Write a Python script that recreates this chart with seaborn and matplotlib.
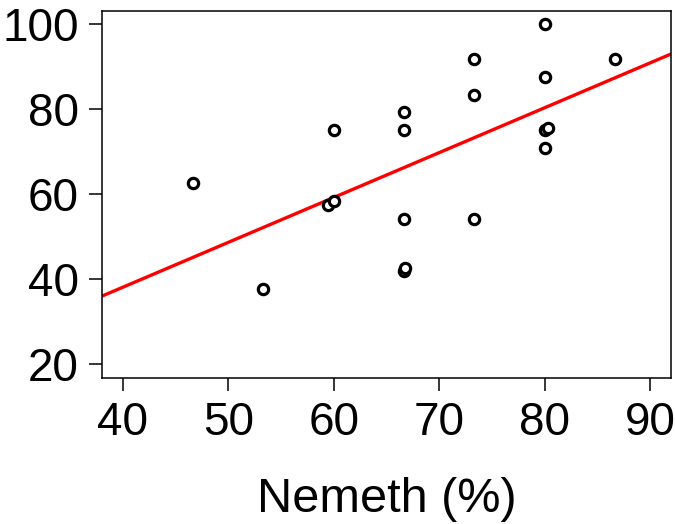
import pandas as pd
import matplotlib.pyplot as plt
import seaborn as sns

sns.set_theme(style="ticks")
plt.rcParams['font.family'] = ['Liberation Sans', 'DejaVu Sans']
plt.rcParams.update({'text.color': 'black', 'axes.labelcolor': 'black',
                     'xtick.color': 'black', 'ytick.color': 'black',
                     'axes.edgecolor': 'black'})

# 读图得到的数据
nemeth = [46.67, 53.33, 59.5, 60.0, 60.0, 66.67, 66.67, 66.67, 66.67, 66.8,
          73.33, 73.33, 73.33, 80.0, 80.0, 80.0, 80.3, 80.0, 86.67]
score = [62.5, 37.5, 57.4, 58.3, 75.0, 79.17, 75.0, 54.17, 41.9, 42.6,
         91.67, 83.3, 54.17, 100.0, 87.5, 75.0, 75.5, 70.8, 91.67]
x_ticks = [40, 50, 60, 70, 80, 90]
y_ticks = [20, 40, 60, 80, 100]

df = pd.DataFrame({'nemeth': nemeth, 'score': score})

fig = plt.figure(figsize=(6.75, 5.24), dpi=100)
ax = fig.add_axes([0.151, 0.279, 0.843, 0.700])
ax.set_xlim(38, 92)
ax.set_ylim(16.7, 103)

# regplot 默认散点 alpha=0.8，这里改成不透明
sns.regplot(data=df, x='nemeth', y='score', ax=ax, ci=None, truncate=False,
            scatter_kws=dict(s=55, facecolors='white', edgecolors='black',
                             linewidths=2.3, alpha=1, zorder=3),
            line_kws=dict(color='red', lw=2.4, zorder=2))

ax.set_xticks(x_ticks)
ax.set_yticks(y_ticks)
ax.tick_params(axis='both', direction='out', length=9.5, width=1.1,
               color='black', labelcolor='black', labelsize=33, pad=7)
ax.set_xlabel('Nemeth (%)', fontsize=35, labelpad=23, color='black')
ax.set_ylabel('')
for sp in ax.spines.values():
    sp.set_visible(True)
    sp.set_color('black')
    sp.set_linewidth(1.1)

fig.savefig('out.png', dpi=100)
